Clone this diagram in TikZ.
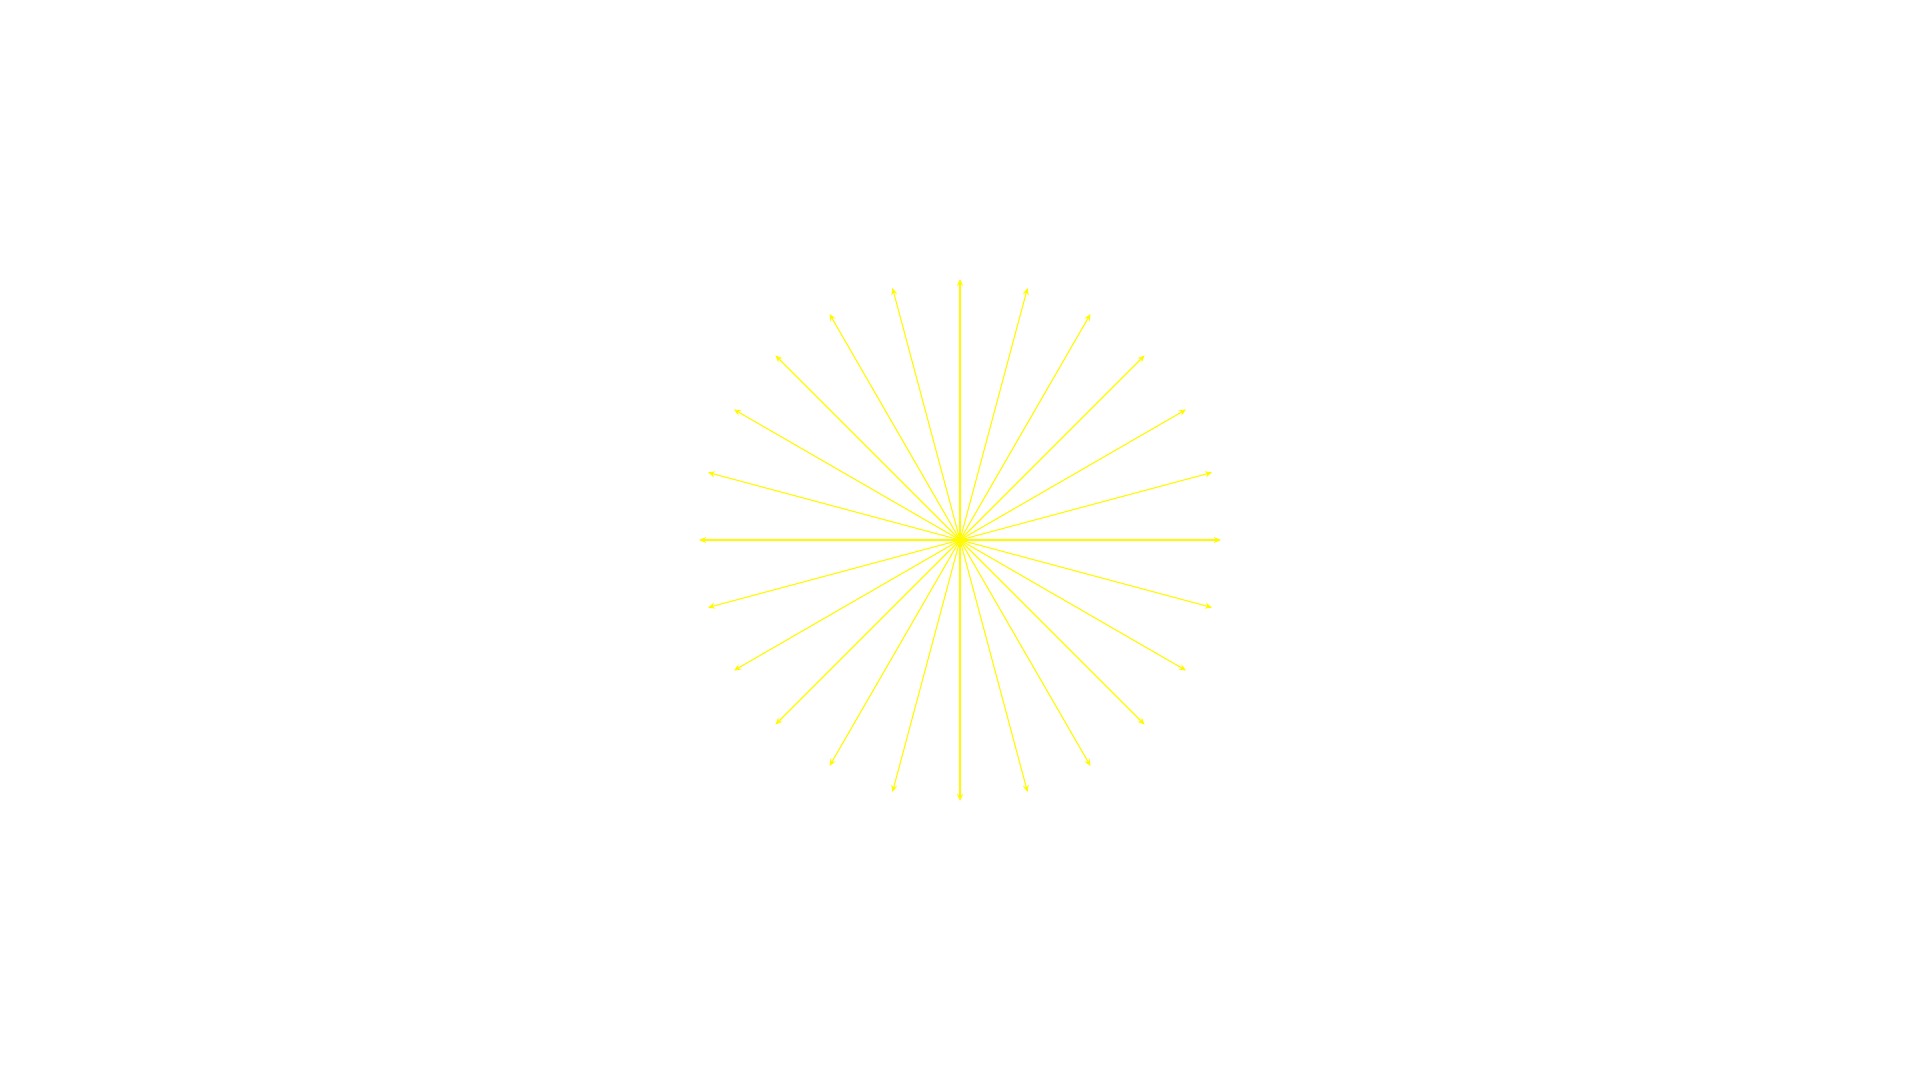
\documentclass[tikz,border=0pt]{standalone}
\usetikzlibrary{arrows.meta,calc}
\definecolor{ray}{RGB}{255,250,0}
\tikzset{rayarrow/.style={draw=ray,line width=0.55pt,-{Stealth[length=3.5pt,width=3pt]}}}
\begin{document}
\begin{tikzpicture}[x=0.5pt,y=0.5pt]
\useasboundingbox (0,0) rectangle (1920,1080);
\coordinate (c) at (960,540);
\foreach \i in {0,...,23}{
  \coordinate (e\i) at ($(c)+(\i*15:261)$);
  \draw[rayarrow] (c) -- (e\i);
}
\end{tikzpicture}
\end{document}
